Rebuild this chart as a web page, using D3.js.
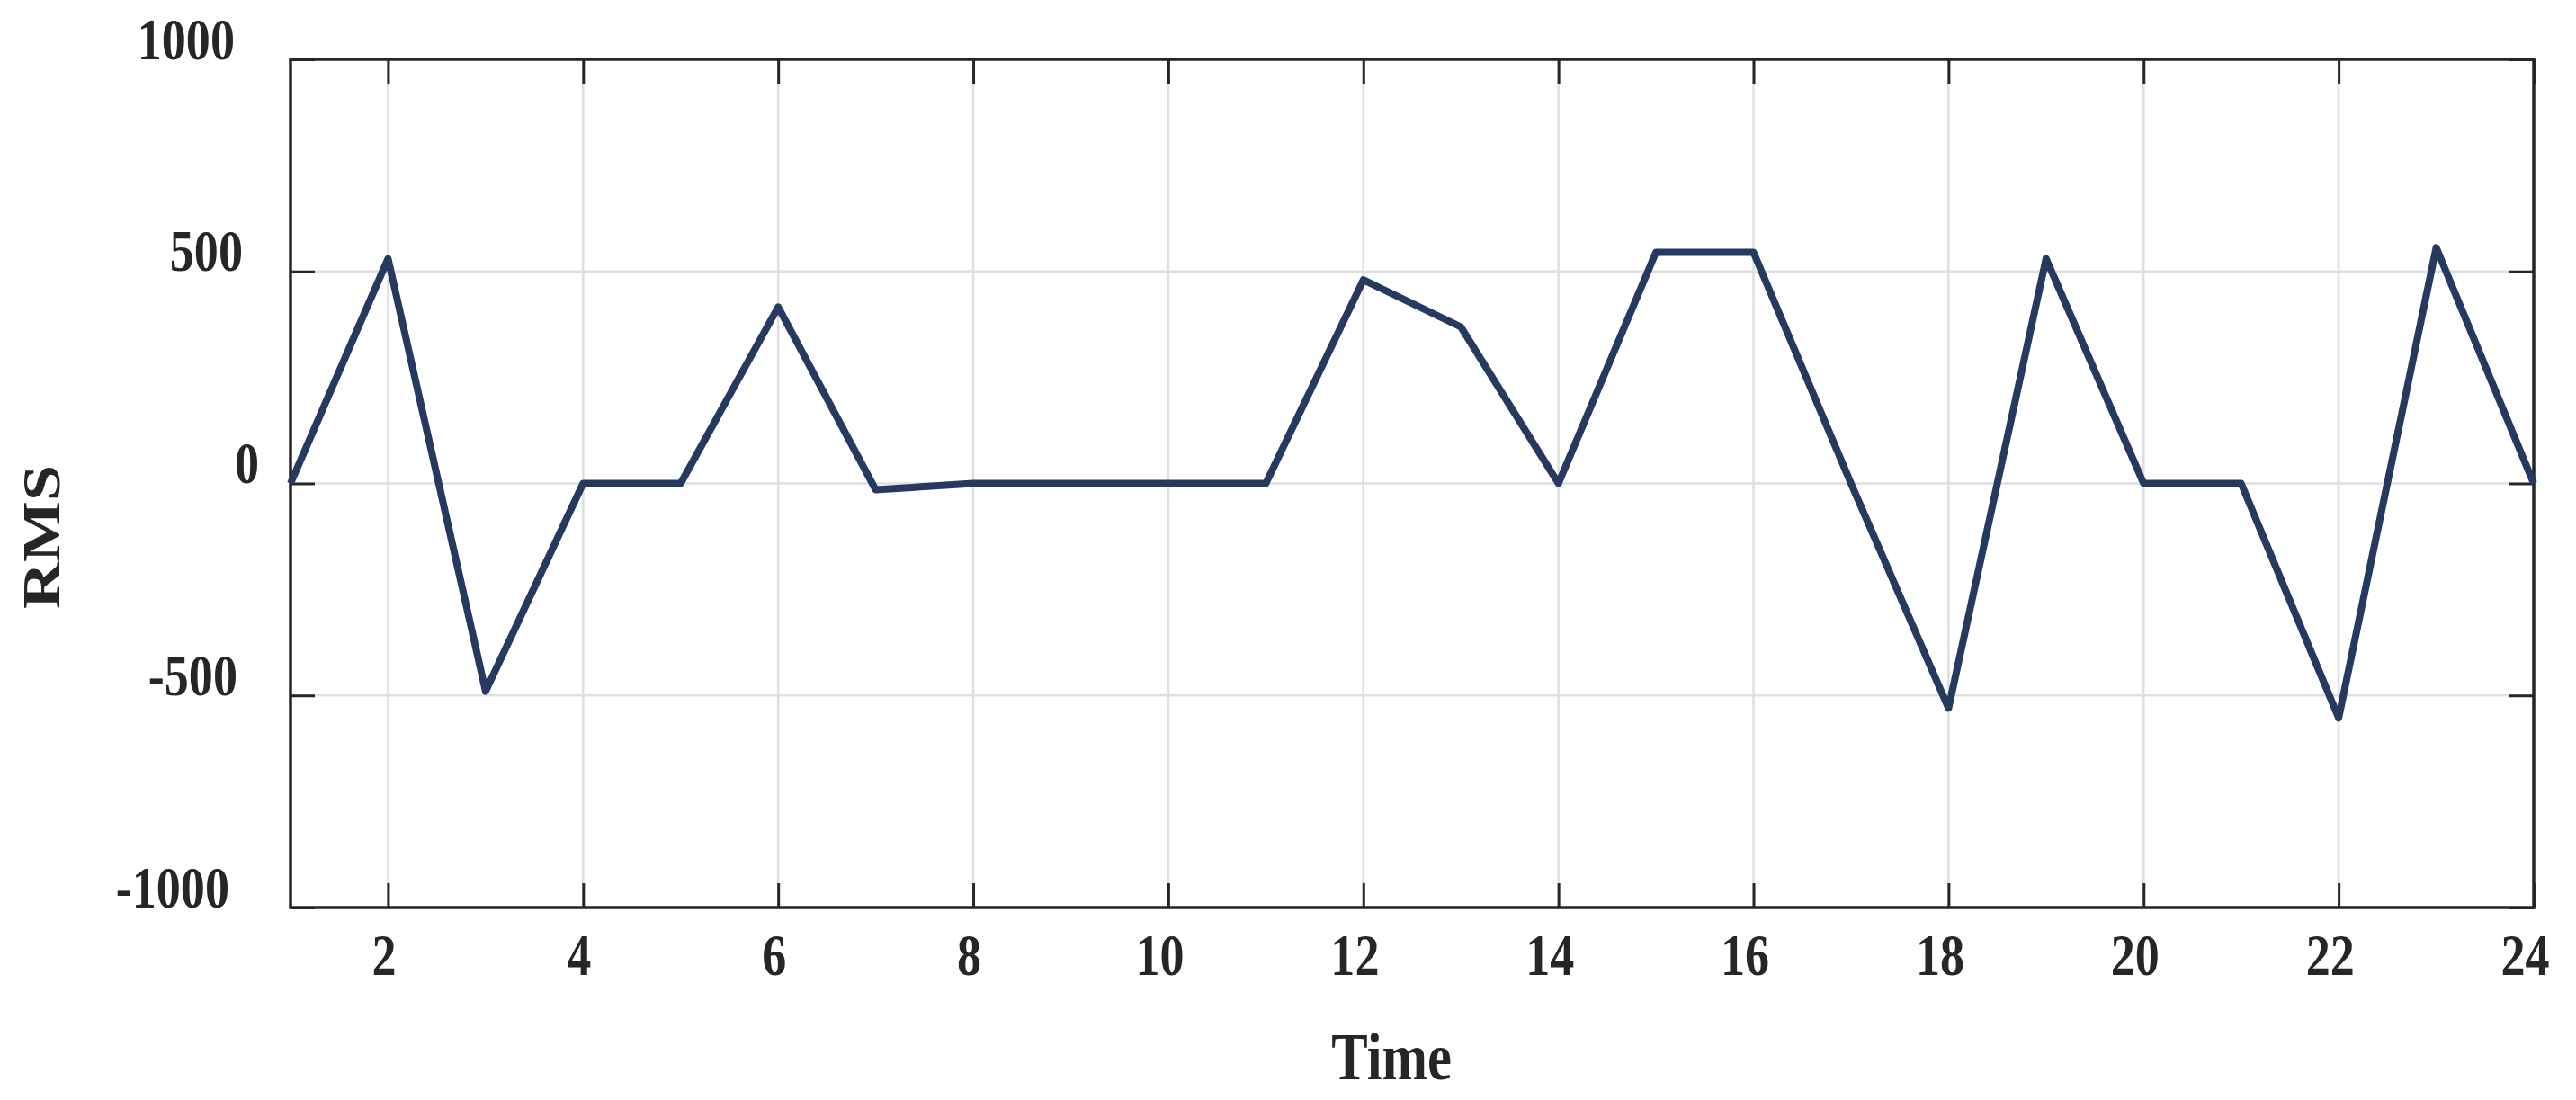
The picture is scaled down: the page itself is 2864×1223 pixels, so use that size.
<!DOCTYPE html>
<html>
<head>
<meta charset="utf-8">
<script src="https://d3js.org/d3.v7.min.js"></script>
<style>
    body { margin: 0; background: #fff; }
    svg { display: block; }
    text { font-family: "Liberation Serif", "Times New Roman", serif; font-weight: bold; fill: #262626; }
</style>
</head>
<body>
<svg width="2864" height="1223"></svg>
<script>
// values
const time = [1, 2, 3, 4, 5, 6, 7, 8, 9, 10, 11, 12, 13, 14, 15, 16, 17, 18, 19, 20, 21, 22, 23, 24];
const rms  = [0, 530, -490, 0, 0, 416, -15, 0, 0, 0, 0, 480, 369, 0, 545, 545, 0, -530, 530, 0, 0, -553, 556, 0];
const xTicks = [2, 4, 6, 8, 10, 12, 14, 16, 18, 20, 22, 24];
const yTicks = [-1000, -500, 0, 500, 1000];

const w = 2864, h = 1223;
const marginTop = 66, marginBottom = 214, marginLeft = 323, marginRight = 47;
const tickLen = 27;
const squeeze = 0.82;   // glyphs in the reference are narrow

const svg = d3.select('svg');

const xs = d3.scaleLinear()
    .domain([1, 24])
    .range([marginLeft, w - marginRight]);

const ys = d3.scaleLinear()
    .domain([-1000, 1000])
    .range([h - marginBottom, marginTop]);

// grid
const grid = svg.append('g');
grid.selectAll('.vx')
    .data(xTicks)
    .join('line')
    .attr('x1', d => xs(d)).attr('x2', d => xs(d))
    .attr('y1', ys(-1000)).attr('y2', ys(1000))
    .attr('stroke', '#dfdfdf').attr('stroke-width', 2.5);
grid.selectAll('.hy')
    .data(yTicks)
    .join('line')
    .attr('x1', xs(1)).attr('x2', xs(24))
    .attr('y1', d => ys(d)).attr('y2', d => ys(d))
    .attr('stroke', '#dfdfdf').attr('stroke-width', 2.5);

// box
svg.append('rect')
    .attr('x', xs(1)).attr('y', ys(1000))
    .attr('width', xs(24) - xs(1)).attr('height', ys(-1000) - ys(1000))
    .attr('fill', 'none').attr('stroke', '#262626').attr('stroke-width', 3.5);

// inward ticks on all four sides
function styleAxis(a) {
    a.select('.domain').remove();
    a.selectAll('.tick line').attr('stroke', '#262626').attr('stroke-width', 3);
}

const fmt = d => String(d);   // plain hyphen minus, as in the reference

const xAxis = svg.append('g')
    .attr('transform', 'translate(0,' + ys(-1000) + ')')
    .call(d3.axisBottom(xs).tickValues(xTicks).tickSize(-tickLen).tickFormat(fmt))
    .call(styleAxis);
svg.append('g')
    .attr('transform', 'translate(0,' + ys(1000) + ')')
    .call(d3.axisTop(xs).tickValues(xTicks).tickSize(-tickLen).tickFormat(''))
    .call(styleAxis);
const yAxis = svg.append('g')
    .attr('transform', 'translate(' + xs(1) + ',0)')
    .call(d3.axisLeft(ys).tickValues(yTicks).tickSize(-tickLen).tickFormat(fmt))
    .call(styleAxis);
svg.append('g')
    .attr('transform', 'translate(' + xs(24) + ',0)')
    .call(d3.axisRight(ys).tickValues(yTicks).tickSize(-tickLen).tickFormat(''))
    .call(styleAxis);

xAxis.selectAll('.tick text')
    .attr('fill', '#262626')
    .style('font-size', '66px')
    .attr('text-anchor', 'middle')
    .attr('x', 0).attr('y', 0).attr('dy', null)
    .attr('transform', function() {
        const tw = this.getComputedTextLength();
        return 'translate(' + (-0.15 * tw) + ',75) scale(' + squeeze + ',1)';
    });

yAxis.selectAll('.tick text')
    .attr('fill', '#262626')
    .style('font-size', '66px')
    .attr('text-anchor', 'end')
    .attr('x', 0).attr('y', 0).attr('dy', null)
    .attr('transform', function() {
        const tw = this.getComputedTextLength();
        return 'translate(' + (-26 - 0.273 * tw) + ',-1) scale(' + squeeze + ',1)';
    });

// data line
const line = d3.line()
    .x((d, i) => xs(time[i]))
    .y(d => ys(d));

svg.append('path')
    .datum(rms)
    .attr('d', line)
    .attr('fill', 'none')
    .attr('stroke', '#26395f')
    .attr('stroke-width', 8)
    .attr('stroke-linejoin', 'round');

// axis titles
const xTitle = svg.append('text')
    .text('Time')
    .style('font-size', '74px')
    .attr('text-anchor', 'middle');
const tw = xTitle.node().getComputedTextLength();
xTitle.attr('transform', 'translate(' + ((xs(1) + xs(24)) / 2 - 0.14 * tw) + ',1200) scale(' + squeeze + ',1)');

svg.append('text')
    .text('RMS')
    .style('font-size', '72px')
    .attr('text-anchor', 'middle')
    .attr('transform', 'translate(66,597) scale(' + squeeze + ',1) rotate(-90)');
</script>
</body>
</html>
